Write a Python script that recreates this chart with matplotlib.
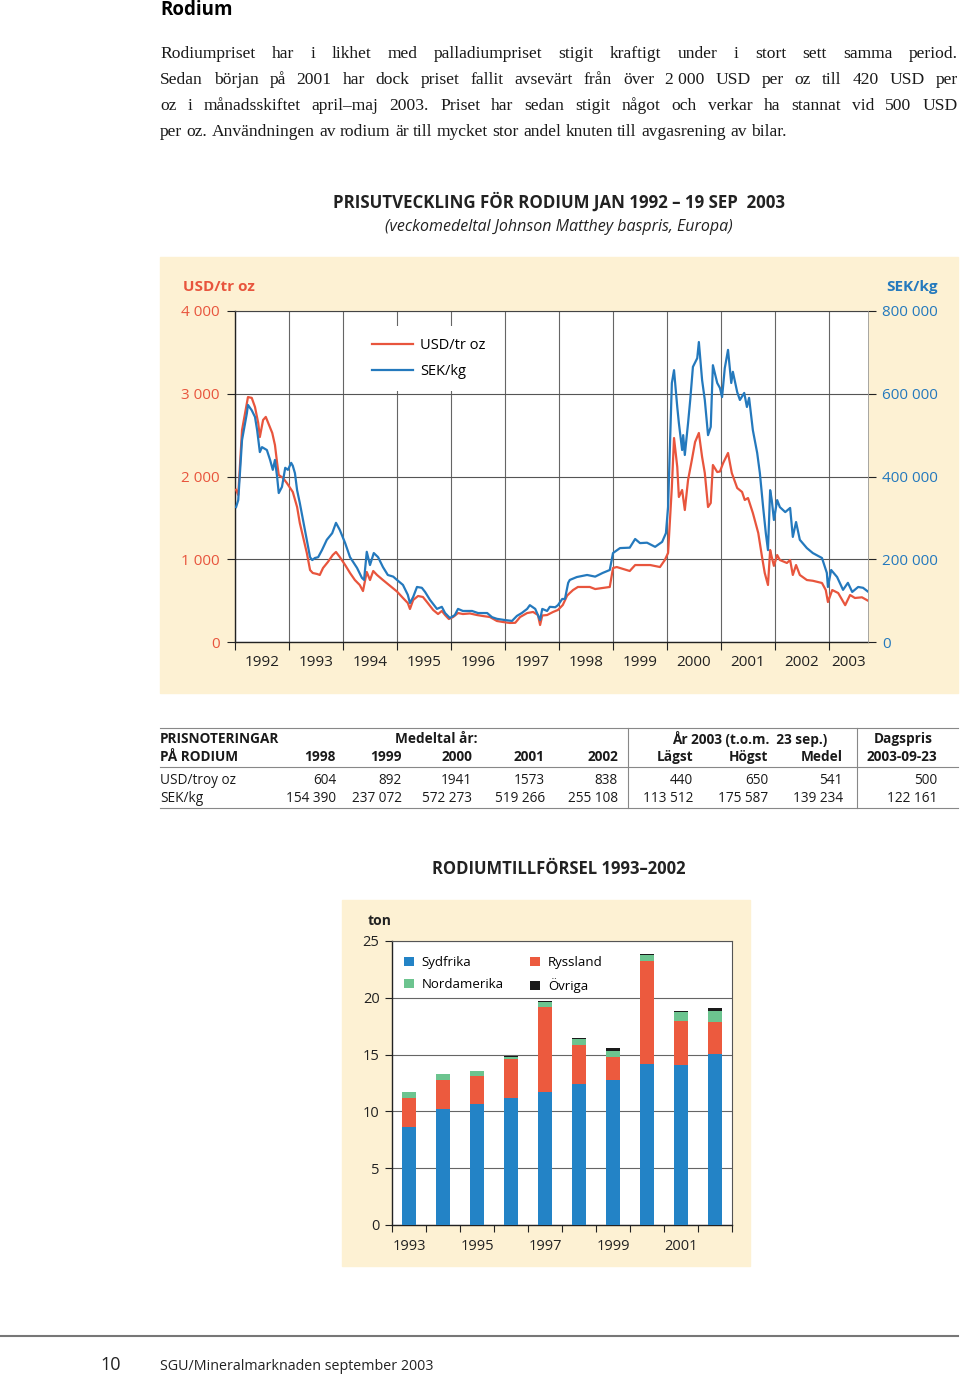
"""Rodium-sidan: prisutveckling, prisnoteringar och tillförsel (SGU 2003)."""
import numpy as np
import matplotlib
matplotlib.use('Agg')
import matplotlib.pyplot as plt
from matplotlib.patches import Rectangle
from matplotlib.lines import Line2D
from matplotlib.ticker import FuncFormatter

plt.rcParams['font.family'] = ['Open Sans', 'DejaVu Sans']

# --- data: veckopris (avläst) ---
usd_year = [1992.02, 1992.06, 1992.13, 1992.19, 1992.24, 1992.31, 1992.37, 1992.43, 1992.46,
            1992.52, 1992.57, 1992.63, 1992.69, 1992.74, 1992.78, 1992.81, 1992.89, 1992.96,
            1993.02, 1993.07, 1993.15, 1993.20, 1993.26, 1993.33, 1993.39, 1993.44, 1993.52,
            1993.57, 1993.63, 1993.72, 1993.81, 1993.87, 1993.94, 1994.04, 1994.13, 1994.22,
            1994.31, 1994.37, 1994.44, 1994.50, 1994.56, 1994.63, 1994.74, 1994.87, 1995.00,
            1995.11, 1995.20, 1995.24, 1995.30, 1995.39, 1995.48, 1995.57, 1995.67, 1995.76,
            1995.83, 1995.89, 1995.96, 1996.04, 1996.13, 1996.22, 1996.35, 1996.48, 1996.59,
            1996.72, 1996.85, 1996.96, 1997.09, 1997.19, 1997.28, 1997.41, 1997.52, 1997.61,
            1997.65, 1997.69, 1997.78, 1997.89, 1997.98, 1998.07, 1998.15, 1998.20, 1998.26,
            1998.35, 1998.57, 1998.67, 1998.94, 1999.00, 1999.07, 1999.31, 1999.41, 1999.69,
            1999.87, 1999.96, 2000.02, 2000.09, 2000.13, 2000.19, 2000.22, 2000.28, 2000.33,
            2000.39, 2000.46, 2000.52, 2000.59, 2000.65, 2000.70, 2000.76, 2000.81, 2000.85,
            2000.93, 2000.98, 2001.04, 2001.13, 2001.20, 2001.30, 2001.39, 2001.44, 2001.50,
            2001.59, 2001.69, 2001.76, 2001.81, 2001.87, 2001.91, 2001.94, 2001.98, 2002.04,
            2002.09, 2002.22, 2002.28, 2002.33, 2002.39, 2002.46, 2002.59, 2002.70, 2002.87,
            2002.94, 2002.98, 2003.06, 2003.17, 2003.30, 2003.39, 2003.48, 2003.61, 2003.72]
usd_val = [1840, 1776, 2560, 2780, 2960, 2950, 2840, 2646, 2477,
           2683, 2720, 2622, 2526, 2380, 2163, 2018, 1982, 1921,
           1861, 1813, 1631, 1438, 1269, 1076, 870, 834, 822,
           810, 894, 967, 1051, 1088, 1027, 930, 834, 749,
           689, 616, 846, 749, 858, 810, 749, 680, 610,
           532, 471, 399, 508, 556, 544, 471, 387, 338,
           375, 326, 278, 302, 350, 338, 345, 326, 314,
           302, 254, 242, 230, 232, 302, 350, 363, 326,
           205, 320, 326, 363, 387, 447, 560, 592, 628,
           665, 665, 640, 665, 894, 906, 858, 930, 930,
           906, 991, 1076, 1873, 2465, 2115, 1752, 1837, 1595,
           1958, 2199, 2417, 2526, 2236, 2042, 1631, 1680, 2139,
           2054, 2060, 2163, 2284, 2042, 1861, 1813, 1716, 1740,
           1559, 1317, 1027, 834, 689, 1112, 1027, 920, 1051,
           991, 955, 991, 810, 930, 810, 749, 740, 713,
           628, 483, 628, 592, 445, 568, 532, 540, 500]

sek_year = [1992.02, 1992.06, 1992.13, 1992.22, 1992.24, 1992.31, 1992.37, 1992.41, 1992.46,
            1992.50, 1992.59, 1992.65, 1992.70, 1992.74, 1992.78, 1992.81, 1992.87, 1992.93,
            1992.98, 1993.04, 1993.07, 1993.11, 1993.15, 1993.20, 1993.26, 1993.33, 1993.39,
            1993.43, 1993.48, 1993.54, 1993.61, 1993.70, 1993.80, 1993.87, 1993.94, 1994.04,
            1994.13, 1994.26, 1994.35, 1994.39, 1994.44, 1994.50, 1994.57, 1994.65, 1994.74,
            1994.83, 1994.93, 1995.00, 1995.11, 1995.20, 1995.24, 1995.30, 1995.37, 1995.46,
            1995.52, 1995.61, 1995.74, 1995.83, 1995.89, 1995.98, 1996.07, 1996.13, 1996.22,
            1996.39, 1996.50, 1996.67, 1996.76, 1996.85, 1997.00, 1997.13, 1997.22, 1997.31,
            1997.41, 1997.46, 1997.56, 1997.65, 1997.69, 1997.78, 1997.83, 1997.93, 1997.98,
            1998.06, 1998.11, 1998.17, 1998.20, 1998.33, 1998.52, 1998.67, 1998.81, 1998.94,
            1999.00, 1999.13, 1999.31, 1999.41, 1999.50, 1999.63, 1999.78, 1999.91, 1999.98,
            2000.02, 2000.09, 2000.13, 2000.19, 2000.22, 2000.28, 2000.30, 2000.33, 2000.39,
            2000.43, 2000.48, 2000.56, 2000.59, 2000.65, 2000.70, 2000.76, 2000.81, 2000.85,
            2000.93, 2000.98, 2001.02, 2001.07, 2001.13, 2001.19, 2001.22, 2001.30, 2001.35,
            2001.43, 2001.48, 2001.52, 2001.59, 2001.67, 2001.72, 2001.78, 2001.83, 2001.87,
            2001.91, 2001.94, 2001.98, 2002.04, 2002.09, 2002.19, 2002.28, 2002.33, 2002.39,
            2002.46, 2002.59, 2002.70, 2002.87, 2002.96, 2002.98, 2003.04, 2003.15, 2003.26,
            2003.35, 2003.43, 2003.54, 2003.63, 2003.72]
sek_val = [326000, 343000, 488000, 553000, 573000, 560000, 544000, 512000, 459000,
           471000, 464000, 440000, 416000, 440000, 399000, 360000, 375000, 421000,
           416000, 433000, 426000, 408000, 367000, 336000, 295000, 247000, 205000,
           198000, 203000, 205000, 222000, 247000, 263000, 288000, 271000, 239000,
           205000, 179000, 155000, 150000, 218000, 186000, 215000, 205000, 181000,
           162000, 158000, 150000, 138000, 114000, 94000, 109000, 133000, 131000,
           121000, 102000, 80000, 85000, 70000, 58000, 65000, 80000, 75000,
           75000, 70000, 70000, 60000, 56000, 53000, 51000, 63000, 70000,
           80000, 89000, 80000, 53000, 80000, 75000, 85000, 84000, 89000,
           104000, 104000, 143000, 150000, 157000, 162000, 158000, 167000, 174000,
           215000, 227000, 228000, 249000, 239000, 240000, 230000, 242000, 263000,
           326000, 626000, 657000, 568000, 529000, 464000, 500000, 452000, 529000,
           585000, 665000, 686000, 725000, 633000, 585000, 500000, 520000, 669000,
           626000, 614000, 592000, 662000, 706000, 626000, 653000, 604000, 585000,
           602000, 568000, 590000, 512000, 457000, 408000, 326000, 263000, 222000,
           367000, 343000, 295000, 343000, 326000, 314000, 324000, 254000, 290000,
           247000, 227000, 215000, 203000, 167000, 133000, 174000, 157000, 126000,
           143000, 121000, 133000, 131000, 122000]

# --- data: prisnoteringar ---
tab_cols = ['1998', '1999', '2000', '2001', '2002', 'Lägst', 'Högst', 'Medel', '2003-09-23']
tab_usd = ['604', '892', '1941', '1573', '838', '440', '650', '541', '500']
tab_sek = ['154 390', '237 072', '572 273', '519 266', '255 108',
           '113 512', '175 587', '139 234', '122 161']

# --- data: tillförsel (ton) ---
supply_years = list(range(1993, 2003))
sydfrika = [8.6, 10.25, 10.65, 11.15, 11.7, 12.45, 12.75, 14.15, 14.05, 15.05]
ryssland = [2.55, 2.5, 2.5, 3.45, 7.5, 3.4, 2.05, 9.1, 3.9, 2.85]
nordamerika = [0.55, 0.5, 0.4, 0.15, 0.4, 0.5, 0.55, 0.5, 0.8, 0.9]
ovriga = [0.0, 0.0, 0.0, 0.1, 0.15, 0.15, 0.25, 0.1, 0.1, 0.3]

RED = '#E8553D'
BLUE = '#2479BD'
BAR_BLUE = '#2383C6'
BAR_RED = '#EC5A3E'
BAR_GREEN = '#6CC48F'
BAR_BLACK = '#1A1A1A'
BEIGE = '#FDF1D3'

W, H = 960, 1378
fig = plt.figure(figsize=(W / 100, H / 100), dpi=100)


def fx(px):
    return px / W


def fy(py):
    return 1 - py / H


def add_ax(l, t, r, b):
    return fig.add_axes([fx(l), fy(b), (r - l) / W, (b - t) / H])


def panel(l, t, r, b):
    fig.add_artist(Rectangle((fx(l), fy(b)), (r - l) / W, (b - t) / H,
                             transform=fig.transFigure, color=BEIGE, zorder=-5))


def hline(x0, x1, y, color='#888888', lw=0.8):
    fig.add_artist(Line2D([fx(x0), fx(x1)], [fy(y), fy(y)],
                          transform=fig.transFigure, color=color, lw=lw))


def vline(x, y0, y1, color='#888888', lw=0.8):
    fig.add_artist(Line2D([fx(x), fx(x)], [fy(y0), fy(y1)],
                          transform=fig.transFigure, color=color, lw=lw))


def text(x, y, s, **kw):
    kw.setdefault('va', 'center')
    return fig.text(fx(x), fy(y), s, **kw)


renderer = fig.canvas.get_renderer()


def justified(line, x0, x1, y, stretch=True, **kw):
    words = line.split(' ')
    widths = []
    for w in words:
        t = fig.text(0, 0, w, **kw)
        widths.append(t.get_window_extent(renderer).width)
        t.remove()
    sp = fig.text(0, 0, 'a a', **kw)
    sa = fig.text(0, 0, 'aa', **kw)
    space = sp.get_window_extent(renderer).width - sa.get_window_extent(renderer).width
    sp.remove()
    sa.remove()
    gap = (x1 - x0 - sum(widths)) / (len(words) - 1) if stretch else space
    x = x0
    for w, wd in zip(words, widths):
        text(x, y, w, ha='left', **kw)
        x += wd + gap


# --- rubrik och brödtext ---
text(160, 10, 'Rodium', fontsize=13.5, fontweight='bold', ha='left')

body = ['Rodiumpriset har i likhet med palladiumpriset stigit kraftigt under i stort sett samma period.',
        'Sedan början på 2001 har dock priset fallit avsevärt från över 2\u00a0000 USD per oz till 420 USD per',
        'oz i månadsskiftet april–maj 2003. Priset har sedan stigit något och verkar ha stannat vid 500 USD',
        'per oz. Användningen av rodium är till mycket stor andel knuten till avgasrening av bilar.']
serif = dict(fontsize=12.6, family=['Liberation Serif', 'DejaVu Serif'], color='#1a1a1a')
for i, line in enumerate(body):
    justified(line, 160, 958, 54 + 26 * i, stretch=(i < 3), **serif)

# --- prisutveckling ---
text(559, 202, 'PRISUTVECKLING FÖR RODIUM JAN 1992 – 19 SEP  2003',
     fontsize=12.2, fontweight='bold', ha='center', color='#222222')
text(559, 227, '(veckomedeltal Johnson Matthey baspris, Europa)',
     fontsize=11.5, fontstyle='italic', ha='center', color='#222222')
panel(160, 257, 958, 693)
text(183, 287, 'USD/tr oz', fontsize=11, fontweight='bold', color=RED, ha='left')
text(938, 287, 'SEK/kg', fontsize=11, fontweight='bold', color=BLUE, ha='right')

x_end = 1992 + 633 / 54
ax = add_ax(235, 311, 868, 642)
ax.set_facecolor('white')
l_usd, = ax.plot(usd_year, usd_val, color=RED, lw=1.6, zorder=3)
ax.set_xlim(1992, x_end)
ax.set_ylim(0, 4000)
ax.set_yticks(range(0, 4001, 1000))
ax.yaxis.set_major_formatter(FuncFormatter(lambda v, p: f'{v:,.0f}'.replace(',', ' ')))
ax.grid(axis='y', color='#555555', lw=0.8)
ax.set_xticks(range(1992, 2004))
ax.set_xticklabels([])
ax.grid(axis='x', which='major', color='#666666', lw=0.8)
mids = [min(y + 0.5, (y + x_end) / 2) for y in range(1992, 2004)]
ax.set_xticks(mids, minor=True)
ax.set_xticklabels([str(y) for y in range(1992, 2004)], minor=True)
ax.tick_params(axis='x', which='major', direction='out', length=6, width=0.8, color='#222222')
ax.tick_params(axis='x', which='minor', length=0, pad=9, labelsize=11, labelcolor='#222222')
ax.tick_params(axis='y', direction='out', length=6, width=0.8, pad=5,
               labelsize=11, labelcolor=RED, color='#222222')
for s in ['left', 'bottom']:
    ax.spines[s].set_color('#222222')
    ax.spines[s].set_linewidth(1.0)
ax.spines['top'].set_color('#444444')
ax.spines['top'].set_linewidth(0.8)
ax.spines['right'].set_visible(False)

ax2 = ax.twinx()
l_sek, = ax2.plot(sek_year, sek_val, color=BLUE, lw=1.6, zorder=3)
ax2.set_ylim(0, 800000)
ax2.set_yticks(range(0, 800001, 200000))
ax2.yaxis.set_major_formatter(FuncFormatter(lambda v, p: f'{v:,.0f}'.replace(',', ' ')))
ax2.tick_params(axis='y', direction='out', length=6, width=0.8, pad=4,
                labelsize=11, labelcolor=BLUE, color='#222222')
for s in ['left', 'bottom', 'top']:
    ax2.spines[s].set_visible(False)
ax2.spines['right'].set_color('#999999')
ax2.spines['right'].set_linewidth(0.6)
ax2.legend([l_usd, l_sek], ['USD/tr oz', 'SEK/kg'], loc='upper left',
           bbox_to_anchor=(fx(360), fy(326)), bbox_transform=fig.transFigure,
           frameon=True, facecolor='white', edgecolor='none', framealpha=1,
           fancybox=False, fontsize=10.5, handlelength=2.8, handletextpad=0.5,
           labelspacing=0.8, borderpad=0.8, borderaxespad=0)

# --- tabell ---
hline(160, 958, 728)
hline(160, 958, 767)
hline(160, 958, 808)
vline(628, 728, 808)
vline(857, 728, 808)
hdr = dict(fontsize=9.8, fontweight='bold', color='#1a1a1a')
cell = dict(fontsize=9.8, color='#1a1a1a')
text(160, 739, 'PRISNOTERINGAR', ha='left', **hdr)
text(436, 739, 'Medeltal år:', ha='center', **hdr)
text(750, 739, 'År 2003 (t.o.m.  23 sep.)', ha='center', **hdr)
text(903, 739, 'Dagspris', ha='center', **hdr)
text(160, 757, 'PÅ RODIUM', ha='left', **hdr)
text(160, 780, 'USD/troy oz', ha='left', **cell)
text(160, 798, 'SEK/kg', ha='left', **cell)
col_right = [336, 402, 472, 545, 618, 693, 768, 843, 937]
for xr, c, u, s in zip(col_right, tab_cols, tab_usd, tab_sek):
    text(xr, 757, c, ha='right', **hdr)
    text(xr, 780, u, ha='right', **cell)
    text(xr, 798, s, ha='right', **cell)

# --- tillförsel ---
text(559, 869, 'RODIUMTILLFÖRSEL 1993–2002', fontsize=12, fontweight='bold',
     ha='center', color='#222222')
panel(342, 900, 750, 1266)
text(368, 921, 'ton', fontsize=10, fontweight='bold', ha='left', color='#222222')

bx = add_ax(392, 941, 732, 1225)
bx.set_facecolor('white')
xpos = np.arange(len(supply_years))
bw = 0.41
b1 = np.array(sydfrika)
b2 = b1 + np.array(ryssland)
b3 = b2 + np.array(nordamerika)
h_syd = bx.bar(xpos, sydfrika, bw, color=BAR_BLUE, zorder=3)
h_rys = bx.bar(xpos, ryssland, bw, bottom=b1, color=BAR_RED, zorder=3)
h_nam = bx.bar(xpos, nordamerika, bw, bottom=b2, color=BAR_GREEN, zorder=3)
h_ovr = bx.bar(xpos, ovriga, bw, bottom=b3, color=BAR_BLACK, zorder=3)
bx.set_xlim(-0.5, len(supply_years) - 0.5)
bx.set_ylim(0, 25)
bx.set_yticks(range(0, 26, 5))
bx.grid(axis='y', color='#666666', lw=0.8, zorder=0)
bx.set_xticks(np.arange(-0.5, len(supply_years), 1))
bx.set_xticklabels([])
bx.set_xticks(xpos[::2], minor=True)
bx.set_xticklabels([str(y) for y in supply_years[::2]], minor=True)
bx.tick_params(axis='x', which='major', direction='out', length=5, width=0.8, color='#222222')
bx.tick_params(axis='x', which='minor', length=0, pad=10, labelsize=10.5, labelcolor='#222222')
bx.tick_params(axis='y', direction='out', length=5, width=0.8, pad=4,
               labelsize=10.5, labelcolor='#222222', color='#222222')
for s in ['left', 'bottom']:
    bx.spines[s].set_color('#222222')
    bx.spines[s].set_linewidth(1.0)
for s in ['top', 'right']:
    bx.spines[s].set_color('#555555')
    bx.spines[s].set_linewidth(0.8)
bx.legend([h_syd, h_nam, h_rys, h_ovr], ['Sydfrika', 'Nordamerika', 'Ryssland', 'Övriga'],
          ncol=2, loc='upper left', bbox_to_anchor=(fx(404), fy(956)),
          bbox_transform=fig.transFigure, frameon=False, fontsize=9.5,
          handlelength=0.75, handleheight=0.75, handletextpad=0.6,
          columnspacing=2.0, labelspacing=0.7, borderpad=0, borderaxespad=0)

# --- sidfot ---
hline(0, 958, 1336, color='#777777', lw=1.5)
text(111, 1365, '10', fontsize=13, ha='center', color='#222222')
text(160, 1367, 'SGU/Mineralmarknaden september 2003', fontsize=10.3, ha='left', color='#222222')

fig.savefig('out.png', dpi=100)
